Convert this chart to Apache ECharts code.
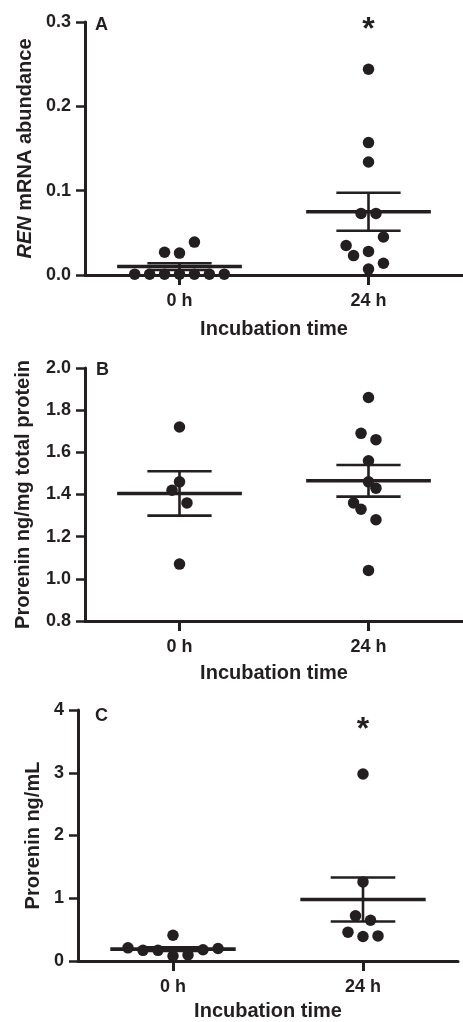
<!DOCTYPE html>
<html>
<head>
<meta charset="utf-8">
<script src="https://cdn.jsdelivr.net/npm/echarts@6/dist/echarts.min.js"></script>
<style>
  html, body { margin: 0; padding: 0; background: #ffffff; }
  #chart { width: 463px; height: 1022px; }
</style>
</head>
<body>
<div id="chart"></div>
<script>
// ---------- data ----------
const xLabels = ['0 h', '24 h'];

// Panel A: REN mRNA abundance
const a0h = [0.001, 0.001, 0.001, 0.001, 0.001, 0.001, 0.001, 0.027, 0.026, 0.039];
const a0hSlot = [-6, -4, -2, 0, 2, 4, 6, -2, 0, 2];
const a24h = [0.244, 0.157, 0.134, 0.073, 0.073, 0.045, 0.035, 0.028, 0.023, 0.014, 0.007];
const a24hSlot = [0, 0, 0, -1, 1, 2, -3, 0, -2, 2, 0];
const aMean = [0.010, 0.075];
const aSem = [0.004, 0.0225];
const aSig = [[1, 0.3]];

// Panel B: Prorenin ng/mg total protein
const b0h = [1.72, 1.46, 1.42, 1.36, 1.07];
const b0hSlot = [0, 0, -1, 1, 0];
const b24h = [1.86, 1.69, 1.66, 1.56, 1.46, 1.43, 1.36, 1.33, 1.28, 1.04];
const b24hSlot = [0, -1, 1, 0, 0, 1, -2, -1, 1, 0];
const bMean = [1.405, 1.465];
const bSem = [0.105, 0.075];

// Panel C: Prorenin ng/mL
const c0h = [0.21, 0.17, 0.17, 0.41, 0.08, 0.095, 0.18, 0.20];
const c0hSlot = [-6, -4, -2, 0, 0, 2, 4, 6];
const c24h = [2.98, 1.26, 0.72, 0.65, 0.46, 0.39, 0.40];
const c24hSlot = [0, 0, -1, 1, -2, 0, 2];
const cMean = [0.19, 0.98];
const cSem = [0.03, 0.35];
const cSig = [[1, 3.81]];

// ---------- styling ----------
const INK = '#231f20';
const FONT = '"Liberation Sans", Arial, Helvetica, sans-serif';
const jitterStep = 0.0395;   // horizontal spacing of overlapping dots (x-axis units)
const meanHalf = 0.33;       // half-width of mean line (x units)
const capHalf = 0.17;        // half-width of SEM caps (x units)

function pts(vals, slots, cat) {
  return vals.map((v, i) => [cat + slots[i] * jitterStep, v]);
}
function stats(means, sems) {
  return means.map((m, i) => [i, m, sems[i]]);
}

function renderStats(params, api) {
  const cx = api.value(0), m = api.value(1), s = api.value(2);
  const l = api.coord([cx - meanHalf, m]);
  const r = api.coord([cx + meanHalf, m]);
  const tL = api.coord([cx - capHalf, m + s]);
  const tR = api.coord([cx + capHalf, m + s]);
  const bL = api.coord([cx - capHalf, m - s]);
  const bR = api.coord([cx + capHalf, m - s]);
  const top = api.coord([cx, m + s]);
  const bot = api.coord([cx, m - s]);
  const st = { stroke: INK, lineWidth: 2.6 };
  return {
    type: 'group',
    children: [
      { type: 'line', shape: { x1: l[0], y1: l[1], x2: r[0], y2: r[1] }, style: { stroke: INK, lineWidth: 3.6 } },
      { type: 'line', shape: { x1: tL[0], y1: tL[1], x2: tR[0], y2: tR[1] }, style: st },
      { type: 'line', shape: { x1: bL[0], y1: bL[1], x2: bR[0], y2: bR[1] }, style: st },
      { type: 'line', shape: { x1: top[0], y1: top[1], x2: bot[0], y2: bot[1] }, style: st }
    ]
  };
}

function xAxisDef(gridIndex, nameGap) {
  return {
    type: 'value', gridIndex, min: -0.5, max: 1.5,
    name: 'Incubation time', nameLocation: 'middle', nameGap,
    nameTextStyle: { color: INK, fontFamily: FONT, fontWeight: 'bold', fontSize: 20 },
    axisLine: { onZero: false, lineStyle: { color: INK, width: 3 } },
    axisTick: { show: true, customValues: [0, 1], length: 10, lineStyle: { color: INK, width: 3 } },
    axisLabel: { customValues: [0, 1], formatter: v => xLabels[Math.round(v)], color: INK,
      fontFamily: FONT, fontWeight: 'bold', fontSize: 18, margin: 17 },
    splitLine: { show: false }
  };
}

function yAxisDef(gridIndex, min, max, interval, decimals, name, nameGap, rich) {
  return {
    type: 'value', gridIndex, min, max, interval,
    name, nameLocation: 'middle', nameGap, nameRotate: 90,
    nameTextStyle: { color: INK, fontFamily: FONT, fontWeight: 'bold', fontSize: 20, rich: rich || {} },
    axisLine: { show: true, onZero: false, lineStyle: { color: INK, width: 3 } },
    axisTick: { show: true, length: 9, lineStyle: { color: INK, width: 2.5 } },
    axisLabel: { formatter: v => v.toFixed(decimals), color: INK, fontFamily: FONT,
      fontWeight: 'bold', fontSize: 18, margin: 14 },
    splitLine: { show: false }
  };
}

function dotSeries(idx, data) {
  return {
    type: 'scatter', xAxisIndex: idx, yAxisIndex: idx, data,
    symbol: 'circle', symbolSize: 11.5, itemStyle: { color: INK, opacity: 1 }, z: 3,
    silent: true
  };
}
function statSeries(idx, data) {
  return {
    type: 'custom', xAxisIndex: idx, yAxisIndex: idx, data,
    renderItem: renderStats, encode: { x: 0, y: 1 }, z: 2, silent: true, clip: false
  };
}
function sigSeries(idx, data) {
  return {
    type: 'scatter', xAxisIndex: idx, yAxisIndex: idx, data,
    symbol: 'circle', symbolSize: 2, itemStyle: { color: 'rgba(0,0,0,0)' }, silent: true, z: 5,
    label: { show: true, position: 'inside', formatter: '*', color: INK, opacity: 1,
      fontFamily: FONT, fontWeight: 'bold', fontSize: 32, offset: [0, 8] }
  };
}

const chart = echarts.init(document.getElementById('chart'), null, { renderer: 'canvas' });
chart.setOption({
  animation: false,
  backgroundColor: '#ffffff',
  grid: [
    { left: 85, top: 22, width: 380, height: 253 },
    { left: 85, top: 368, width: 380, height: 253 },
    { left: 78, top: 710, width: 380, height: 253 }
  ],
  xAxis: [xAxisDef(0, 44), xAxisDef(1, 42), xAxisDef(2, 40)],
  yAxis: [
    yAxisDef(0, 0, 0.3, 0.1, 1, '{it|REN} mRNA abundance', 45,
      { it: { fontStyle: 'italic', fontWeight: 'bold', fontSize: 20, fontFamily: FONT, color: INK } }),
    yAxisDef(1, 0.8, 2.0, 0.2, 1, 'Prorenin ng/mg total protein', 52),
    yAxisDef(2, 0, 4, 1, 0, 'Prorenin ng/mL', 34)
  ],
  graphic: [
    { type: 'text', left: 95, top: 16, style: { text: 'A', fill: INK, font: 'bold 18px ' + FONT } },
    { type: 'text', left: 96, top: 361, style: { text: 'B', fill: INK, font: 'bold 18px ' + FONT } },
    { type: 'text', left: 95, top: 707, style: { text: 'C', fill: INK, font: 'bold 18px ' + FONT } }
  ],
  series: [
    statSeries(0, stats(aMean, aSem)),
    dotSeries(0, pts(a0h, a0hSlot, 0).concat(pts(a24h, a24hSlot, 1))),
    sigSeries(0, aSig),
    statSeries(1, stats(bMean, bSem)),
    dotSeries(1, pts(b0h, b0hSlot, 0).concat(pts(b24h, b24hSlot, 1))),
    statSeries(2, stats(cMean, cSem)),
    dotSeries(2, pts(c0h, c0hSlot, 0).concat(pts(c24h, c24hSlot, 1))),
    sigSeries(2, cSig)
  ]
});
</script>
</body>
</html>
